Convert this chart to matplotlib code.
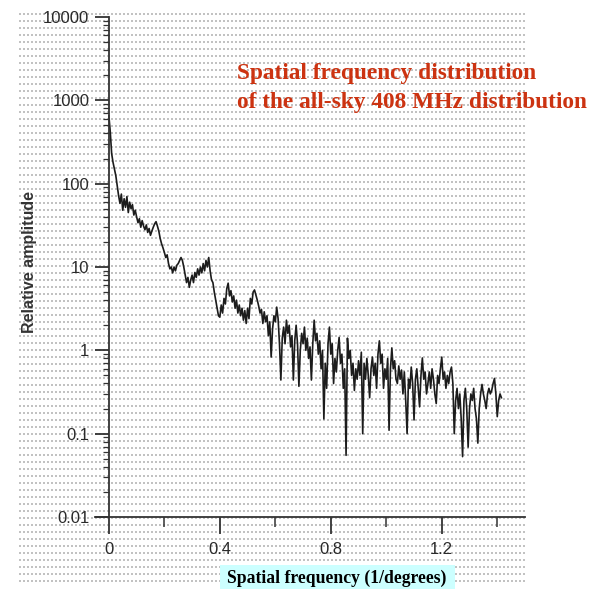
import numpy as np
import matplotlib
matplotlib.use("Agg")
import matplotlib.pyplot as plt
from matplotlib.patches import Rectangle
from matplotlib.ticker import FixedLocator, FixedFormatter, LogLocator, NullFormatter

# spatial frequency (1/degrees)
freq = [
    0.000, 0.005, 0.010, 0.015, 0.020, 0.025, 0.030, 0.035, 0.040, 0.045,
    0.050, 0.055, 0.060, 0.065, 0.070, 0.075, 0.080, 0.085, 0.090, 0.095,
    0.100, 0.105, 0.110, 0.115, 0.120, 0.125, 0.130, 0.135, 0.140, 0.145,
    0.150, 0.155, 0.160, 0.165, 0.170, 0.175, 0.180, 0.185, 0.190, 0.195,
    0.200, 0.205, 0.210, 0.215, 0.220, 0.225, 0.230, 0.235, 0.240, 0.245,
    0.250, 0.255, 0.260, 0.265, 0.270, 0.275, 0.280, 0.285, 0.290, 0.295,
    0.300, 0.305, 0.310, 0.315, 0.320, 0.325, 0.330, 0.335, 0.340, 0.345,
    0.350, 0.355, 0.360, 0.365, 0.370, 0.375, 0.380, 0.385, 0.390, 0.395,
    0.400, 0.405, 0.410, 0.415, 0.420, 0.425, 0.430, 0.435, 0.440, 0.445,
    0.450, 0.455, 0.460, 0.465, 0.470, 0.475, 0.480, 0.485, 0.490, 0.495,
    0.500, 0.505, 0.510, 0.515, 0.520, 0.525, 0.530, 0.535, 0.540, 0.545,
    0.550, 0.555, 0.560, 0.565, 0.570, 0.575, 0.580, 0.585, 0.590, 0.595,
    0.600, 0.605, 0.610, 0.615, 0.620, 0.625, 0.630, 0.635, 0.640, 0.645,
    0.650, 0.655, 0.660, 0.665, 0.670, 0.675, 0.680, 0.685, 0.690, 0.695,
    0.700, 0.705, 0.710, 0.715, 0.720, 0.725, 0.730, 0.735, 0.740, 0.745,
    0.750, 0.755, 0.760, 0.765, 0.770, 0.775, 0.780, 0.785, 0.790, 0.795,
    0.800, 0.805, 0.810, 0.815, 0.820, 0.825, 0.830, 0.835, 0.840, 0.845,
    0.850, 0.855, 0.860, 0.865, 0.870, 0.875, 0.880, 0.885, 0.890, 0.895,
    0.900, 0.905, 0.910, 0.915, 0.920, 0.925, 0.930, 0.935, 0.940, 0.945,
    0.950, 0.955, 0.960, 0.965, 0.970, 0.975, 0.980, 0.985, 0.990, 0.995,
    1.000, 1.005, 1.010, 1.015, 1.020, 1.025, 1.030, 1.035, 1.040, 1.045,
    1.050, 1.055, 1.060, 1.065, 1.070, 1.075, 1.080, 1.085, 1.090, 1.095,
    1.100, 1.105, 1.110, 1.115, 1.120, 1.125, 1.130, 1.135, 1.140, 1.145,
    1.150, 1.155, 1.160, 1.165, 1.170, 1.175, 1.180, 1.185, 1.190, 1.195,
    1.200, 1.205, 1.210, 1.215, 1.220, 1.225, 1.230, 1.235, 1.240, 1.245,
    1.250, 1.255, 1.260, 1.265, 1.270, 1.275, 1.280, 1.285, 1.290, 1.295,
    1.300, 1.305, 1.310, 1.315, 1.320, 1.325, 1.330, 1.335, 1.340, 1.345,
    1.350, 1.355, 1.360, 1.365, 1.370, 1.375, 1.380, 1.385, 1.390, 1.395,
    1.400, 1.405, 1.410, 1.415,
]

# relative amplitude at each frequency
amplitude = [
    650, 420, 230, 180, 150, 125, 95, 72, 58, 75,
    48, 66, 52, 70, 45, 60, 50, 56, 42, 48,
    40, 34, 38, 30, 36, 31, 28, 32, 26, 29,
    24, 27, 30, 33, 35, 31, 27, 22, 19, 17,
    15, 13, 14, 11, 9.5, 10, 8.5, 10, 9, 10.5,
    11, 12, 13, 12, 10, 8, 6.5, 7.5, 5.7, 7,
    8, 6.5, 8.6, 7.5, 9.5, 8, 10, 8.5, 11, 9,
    12, 10, 13, 9, 7, 6.5, 5, 4, 3.2, 2.6,
    2.5, 3.5, 2.8, 4.2, 3.6, 5.5, 6.4, 4.5, 5.2, 3.8,
    4.5, 3.2, 4.0, 2.8, 3.5, 2.6, 3.2, 2.3, 3.0, 2.1,
    3.2, 2.4, 4.2, 3.6, 5.0, 5.3, 4.6, 4.0, 3.4, 2.8,
    3.1, 2.1, 2.9, 2.2, 2.6, 1.5, 2.2, 0.83, 1.8, 2.6,
    2.2, 3.3, 2.4, 1.2, 0.44, 1.4, 1.9, 1.2, 2.3, 1.6,
    2.0, 1.1, 1.5, 0.44, 1.3, 2.0, 1.2, 0.37, 1.0, 1.6,
    1.2, 1.9, 1.0, 1.4, 0.8, 1.1, 0.44, 1.2, 2.3, 1.3,
    1.6, 0.9, 1.3, 0.6, 1.0, 0.15, 0.7, 0.35, 1.2, 1.9,
    0.9, 1.2, 0.4, 0.8, 0.55, 1.0, 1.43, 0.7, 0.9, 0.35,
    0.6, 0.055, 1.4, 0.8, 1.0, 0.5, 0.7, 0.33, 0.6, 0.45,
    0.75, 0.5, 0.95, 0.1, 0.7, 0.45, 0.8, 0.5, 0.27, 0.6,
    0.83, 0.5, 0.7, 0.35, 0.9, 1.3, 0.7, 0.9, 0.35, 0.6,
    0.45, 0.8, 0.11, 0.6, 1.07, 0.6, 0.75, 0.45, 0.4, 0.65,
    0.45, 0.58, 0.3, 0.55, 0.25, 0.1, 0.45, 0.35, 0.63, 0.4,
    0.146, 0.45, 0.6, 0.35, 0.21, 0.5, 0.81, 0.45, 0.55, 0.3,
    0.4, 0.55, 0.35, 0.6, 0.45, 0.3, 0.23, 0.5, 0.4, 0.6,
    0.83, 0.45, 0.55, 0.35, 0.5, 0.4, 0.55, 0.63, 0.4, 0.1,
    0.25, 0.35, 0.2, 0.3, 0.15, 0.053, 0.25, 0.35, 0.2, 0.069,
    0.2, 0.3, 0.25, 0.35, 0.2, 0.15, 0.077, 0.2, 0.3, 0.39,
    0.3, 0.25, 0.2, 0.3, 0.35, 0.3, 0.33, 0.4, 0.46, 0.3,
    0.16, 0.25, 0.3, 0.27,
]

x_ticks = [0, 0.4, 0.8, 1.2]
x_tick_labels = ["0", "0.4", "0.8", "1.2"]
y_ticks = [0.01, 0.1, 1, 10, 100, 1000, 10000]
y_tick_labels = ["0.01", "0.1", "1", "10", "100", "1000", "10000"]

title_lines = "Spatial frequency distribution\nof the all-sky 408 MHz distribution"
x_label = "Spatial frequency (1/degrees)"
y_label = "Relative amplitude"

W, H = 598, 589
fig = plt.figure(figsize=(W / 100, H / 100), dpi=100)
fig.patch.set_facecolor("white")

# dotted "graph paper" background; pixel coordinates, dots on pixel centres
bg = fig.add_axes([0, 0, 1, 1], zorder=0)
bg.set_xlim(0, W)
bg.set_ylim(H, 0)
bg.axis("off")
gx, gy = np.meshgrid(np.arange(19.5, 526, 4), np.arange(13.5, 582, 7))
bg.scatter(gx.ravel(), gy.ravel(), s=0.52, marker="s", color="#c2c2c2", linewidths=0)

# main plot
ax = fig.add_axes([95 / W, 1 - 517 / H, 430 / W, 500 / H], zorder=2)
ax.patch.set_alpha(0)
ax.plot(freq, amplitude, color="#1c1c1c", lw=1.2)
ax.set_yscale("log")
ax.set_xlim(-0.05, 1.5)
ax.set_ylim(0.01, 10000)

for side in ("top", "right"):
    ax.spines[side].set_visible(False)
ax.spines["left"].set_position(("data", 0))
for side in ("left", "bottom"):
    ax.spines[side].set_color("#333333")
    ax.spines[side].set_linewidth(1.3)

ax.xaxis.set_major_locator(FixedLocator(x_ticks))
ax.xaxis.set_major_formatter(FixedFormatter(x_tick_labels))
ax.xaxis.set_minor_locator(FixedLocator([0.2, 0.6, 1.0, 1.4]))
ax.yaxis.set_major_locator(FixedLocator(y_ticks))
ax.yaxis.set_major_formatter(FixedFormatter(y_tick_labels))
ax.yaxis.set_minor_locator(LogLocator(base=10, subs=np.arange(2, 10), numticks=20))
ax.yaxis.set_minor_formatter(NullFormatter())

ax.tick_params(axis="x", which="major", direction="out", length=12, width=1.3,
               color="#333333", pad=6, labelsize=12, labelcolor="#2a2a2a")
ax.tick_params(axis="x", which="minor", direction="out", length=7, width=1.1,
               color="#333333")
ax.tick_params(axis="y", which="major", direction="out", length=10, width=1.3,
               color="#333333", pad=4, labelsize=12, labelcolor="#2a2a2a")
ax.tick_params(axis="y", which="minor", direction="out", length=4.5, width=0.9,
               color="#333333")
for lbl in ax.get_xticklabels() + ax.get_yticklabels():
    lbl.set_family("Liberation Sans")

fig.text(30 / W, 1 - 262 / H, y_label, rotation=90, ha="center", va="center",
         family="Liberation Sans", fontsize=11.5, fontweight="bold", color="#333333")

fig.text(237 / W, 1 - 88 / H, title_lines, ha="left", va="center",
         family="Liberation Serif", fontsize=16.8, fontweight="bold", color="#cc3311",
         linespacing=1.45)

fig.patches.append(Rectangle((220 / W, 0), 235 / W, 24 / H, transform=fig.transFigure,
                             facecolor="#ccffff", edgecolor="none", zorder=1))
fig.text(337 / W, 1 - 578 / H, x_label, ha="center", va="center",
         family="Liberation Serif", fontsize=12.7, fontweight="bold", color="black")

fig.savefig("out.png", dpi=100)
